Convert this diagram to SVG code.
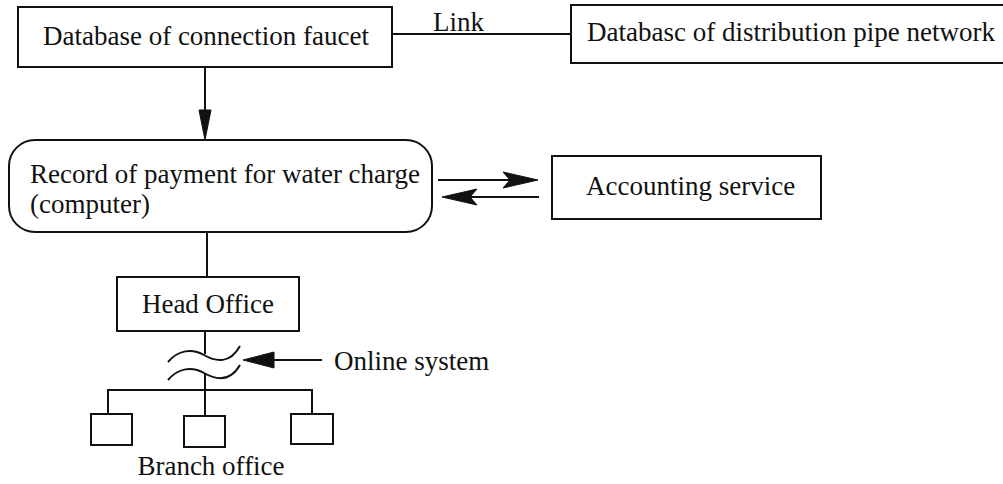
<svg xmlns="http://www.w3.org/2000/svg" width="1003" height="484" viewBox="0 0 1003 484">
<style>
.box{fill:#fff;stroke:#111;stroke-width:2}
.t{font-family:"Liberation Serif","Times New Roman",serif;font-size:27px;fill:#111}
.ln{fill:none;stroke:#111;stroke-width:2}
.ah{fill:#111;stroke:#111;stroke-width:1}
</style>
<rect width="1003" height="484" fill="#fff"/>
<g id="connectors">
<line class="ln" x1="392" y1="34" x2="571" y2="34"/>
<text class="t" x="433" y="31" font-size="26">Link</text>
<line class="ln" x1="205" y1="67" x2="205" y2="112"/>
<polygon class="ah" points="199,110 211,110 205,140"/>
<line class="ln" x1="438" y1="180" x2="510" y2="180"/>
<polygon class="ah" points="503,172 538,180 503,188 510,180"/>
<line class="ln" x1="470" y1="197" x2="539" y2="197"/>
<polygon class="ah" points="477,189 442,197 477,205 470,197"/>
<line class="ln" x1="207" y1="232" x2="207" y2="277"/>
<line class="ln" x1="205" y1="331" x2="205" y2="354"/>
<path class="ln" d="M168,362 C178,350 192,348 204,355 S230,364 240,346"/>
<path class="ln" d="M168,380 C178,368 192,366 204,373 S230,382 240,365"/>
<line class="ln" x1="205" y1="373" x2="205" y2="416"/>
<line class="ln" x1="108" y1="390" x2="312" y2="390"/>
<line class="ln" x1="108" y1="389" x2="108" y2="414"/>
<line class="ln" x1="312" y1="389" x2="312" y2="414"/>
<line class="ln" x1="270" y1="360" x2="322" y2="360"/>
<polygon class="ah" points="243,360 274,352 274,368"/>
<text class="t" x="334" y="370">Online system</text>
</g>
<g id="db-faucet">
<rect class="box" x="18" y="7" width="374" height="60"/>
<text class="t" x="206" y="45" text-anchor="middle">Database of connection faucet</text>
</g>
<g id="db-pipe">
<rect class="box" x="571" y="5" width="440" height="58"/>
<text class="t" x="587" y="41">Databasc of distribution pipe network</text>
</g>
<g id="record">
<rect class="box" x="9" y="140" width="423" height="92" rx="26" ry="26"/>
<text class="t" x="30" y="183">Record of payment for water charge</text>
<text class="t" x="30" y="213">(computer)</text>
</g>
<g id="accounting">
<rect class="box" x="552" y="156" width="269" height="63"/>
<text class="t" x="586" y="195">Accounting service</text>
</g>
<g id="head-office">
<rect class="box" x="117" y="277" width="182" height="54"/>
<text class="t" x="208" y="313" text-anchor="middle">Head Office</text>
</g>
<g id="branch-office">
<rect class="box" x="91" y="414" width="41" height="31"/>
<rect class="box" x="184" y="416" width="41" height="31"/>
<rect class="box" x="291" y="414" width="42" height="30"/>
<text class="t" x="211" y="475" text-anchor="middle">Branch office</text>
</g>
</svg>
